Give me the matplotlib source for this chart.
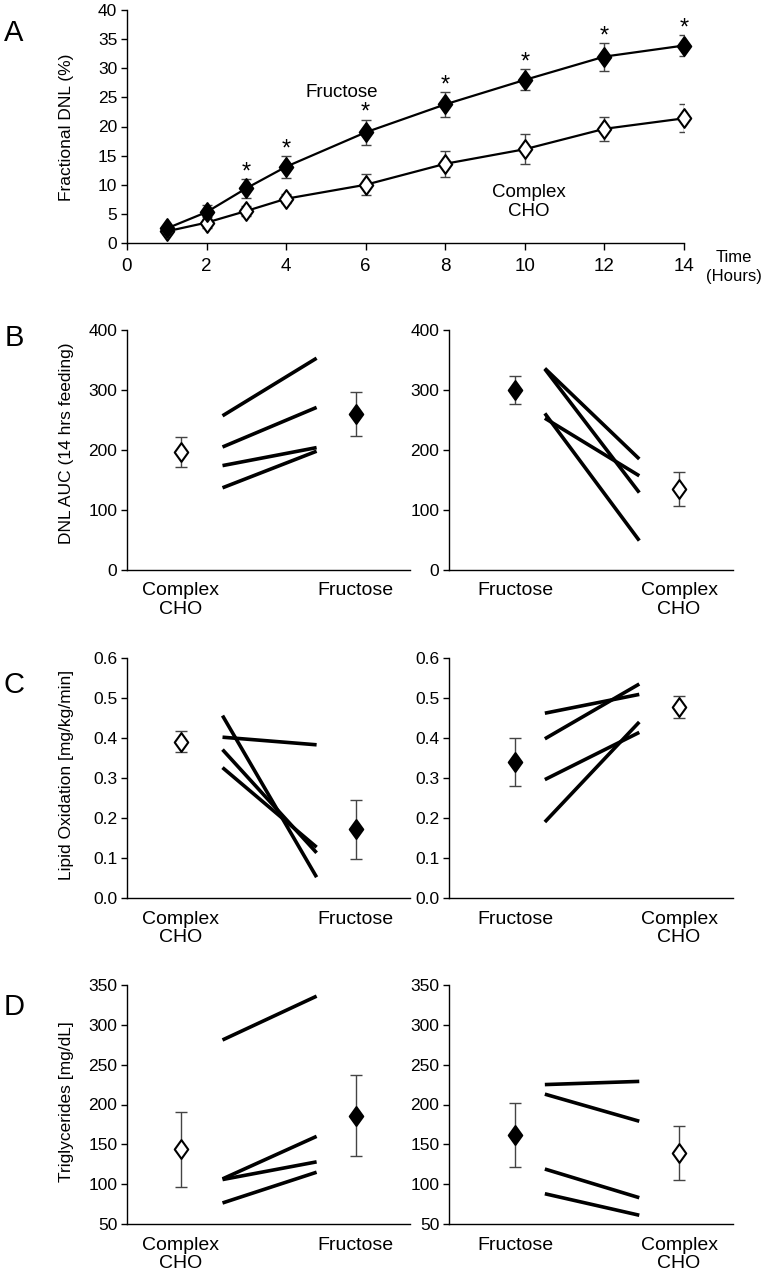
import matplotlib
matplotlib.use('Agg')
import matplotlib.pyplot as plt
from matplotlib.path import Path

plt.rcParams['font.family'] = ['Liberation Sans', 'DejaVu Sans']

# ---------------- Data ----------------
# Panel A: fractional DNL over time
time_h = [1, 2, 3, 4, 6, 8, 10, 12, 14]
dnl_fructose = [2.5, 5.3, 9.4, 13.1, 19.0, 23.8, 28.0, 32.0, 33.9]
dnl_fructose_err = [0.5, 1.2, 1.6, 1.9, 2.2, 2.1, 1.8, 2.4, 1.8]
dnl_complex = [2.0, 3.5, 5.5, 7.6, 10.0, 13.6, 16.1, 19.6, 21.4]
dnl_complex_err = [0.5, 1.0, 0.9, 0.8, 1.8, 2.2, 2.6, 2.1, 2.4]
star_times = [3, 4, 6, 8, 10, 12, 14]

# Panel B: DNL AUC (left: Complex -> Fructose ; right: Fructose -> Complex)
b_left_complex_mean, b_left_complex_err = 196, 25
b_left_fructose_mean, b_left_fructose_err = 260, 36
b_left_start = [257, 205, 174, 137]
b_left_end = [353, 271, 204, 198]
b_right_fructose_mean, b_right_fructose_err = 300, 23
b_right_complex_mean, b_right_complex_err = 135, 29
b_right_start = [336, 335, 261, 253]
b_right_end = [185, 129, 49, 157]

# Panel C: Lipid oxidation
c_left_complex_mean, c_left_complex_err = 0.391, 0.027
c_left_fructose_mean, c_left_fructose_err = 0.172, 0.074
c_left_start = [0.456, 0.402, 0.371, 0.326]
c_left_end = [0.052, 0.383, 0.113, 0.127]
c_right_fructose_mean, c_right_fructose_err = 0.339, 0.060
c_right_complex_mean, c_right_complex_err = 0.477, 0.028
c_right_start = [0.462, 0.398, 0.296, 0.190]
c_right_end = [0.509, 0.535, 0.414, 0.440]

# Panel D: Triglycerides
d_left_complex_mean, d_left_complex_err = 144, 47
d_left_fructose_mean, d_left_fructose_err = 186, 51
d_left_start = [281, 106.6, 105.8, 76.4]
d_left_end = [336, 160, 128, 115]
d_right_fructose_mean, d_right_fructose_err = 162, 40
d_right_complex_mean, d_right_complex_err = 139, 34
d_right_start = [225, 213, 119, 88]
d_right_end = [229, 179, 83, 61]

label_complex = 'Complex\nCHO'
label_fructose = 'Fructose'

# ---------------- Styling helpers ----------------
diamond = Path([(0, 1), (0.72, 0), (0, -1), (-0.72, 0), (0, 1)],
               [Path.MOVETO, Path.LINETO, Path.LINETO, Path.LINETO, Path.CLOSEPOLY])
W, H = 762, 1274
fig = plt.figure(figsize=(W / 100, H / 100), dpi=100)

TICK_FS = 12.5
ERR_COLOR = '#444444'
MS = 13.5


def fig_axes(left_px, right_px, top_px, bottom_px):
    return fig.add_axes([left_px / W, 1 - bottom_px / H,
                         (right_px - left_px) / W, (bottom_px - top_px) / H])


def style_axes(ax):
    for s in ['top', 'right']:
        ax.spines[s].set_visible(False)
    ax.spines['left'].set_linewidth(1.0)
    ax.spines['bottom'].set_linewidth(1.0)
    ax.tick_params(axis='y', direction='out', length=4, width=1, labelsize=TICK_FS, pad=3)


def point(ax, x, mean, err, filled):
    ax.errorbar([x], [mean], yerr=[err], fmt='none', ecolor=ERR_COLOR,
                elinewidth=1.0, capsize=4, capthick=1.0, zorder=3)
    ax.plot([x], [mean], linestyle='none', marker=diamond, markersize=MS,
            markerfacecolor='black' if filled else 'white',
            markeredgecolor='black', markeredgewidth=1.5, zorder=4, clip_on=False)


# ---------------- Panel A ----------------
axA = fig_axes(127, 684, 10, 243)
style_axes(axA)
axA.errorbar(time_h, dnl_complex, yerr=dnl_complex_err, fmt='none', ecolor=ERR_COLOR,
             elinewidth=1.0, capsize=3.5, capthick=1.0, zorder=2)
axA.errorbar(time_h, dnl_fructose, yerr=dnl_fructose_err, fmt='none', ecolor=ERR_COLOR,
             elinewidth=1.0, capsize=3.5, capthick=1.0, zorder=2)
axA.plot(time_h, dnl_complex, color='black', lw=1.6, marker=diamond, markersize=MS,
         markerfacecolor='white', markeredgecolor='black', markeredgewidth=1.5,
         zorder=3, clip_on=False)
axA.plot(time_h, dnl_fructose, color='black', lw=1.6, marker=diamond, markersize=MS,
         markerfacecolor='black', markeredgecolor='black', markeredgewidth=1.5,
         zorder=4, clip_on=False)
for t in star_times:
    i = time_h.index(t)
    axA.text(t, dnl_fructose[i] + dnl_fructose_err[i] + 0.1, '*', ha='center',
             va='baseline', fontsize=17)
axA.set_xlim(0, 14)
axA.set_ylim(0, 40)
axA.set_xticks(range(0, 15, 2))
axA.set_yticks(range(0, 41, 5))
axA.tick_params(axis='x', direction='out', length=5, width=1, labelsize=TICK_FS + 1, pad=6)
axA.text(5.4, 25.9, 'Fructose', ha='center', va='center', fontsize=13.5)
axA.text(10.1, 7.0, 'Complex\nCHO', ha='center', va='center', fontsize=13.5, linespacing=1.15)
axA.text(15.25, -4.1, 'Time\n(Hours)', ha='center', va='center', fontsize=12,
         linespacing=1.3, clip_on=False)

# ---------------- Paired panels ----------------
LEFT_POS = dict(first=0.76, start=1.35, end=2.68, second=3.23)
RIGHT_POS = dict(first=0.93, start=1.35, end=2.68, second=3.24)


def paired(ax, pos, first_label, second_label, first_mean, first_err, first_filled,
           second_mean, second_err, second_filled, starts, ends, ylim, yticks, ytl):
    style_axes(ax)
    for s, e in zip(starts, ends):
        ax.plot([pos['start'], pos['end']], [s, e], color='black', lw=2.6,
                solid_capstyle='butt', zorder=2)
    point(ax, pos['first'], first_mean, first_err, first_filled)
    point(ax, pos['second'], second_mean, second_err, second_filled)
    ax.set_xlim(0, 4)
    ax.set_ylim(*ylim)
    ax.set_yticks(yticks)
    ax.set_yticklabels(ytl)
    ax.set_xticks([pos['first'], pos['second']])
    ax.set_xticklabels([first_label, second_label], fontsize=TICK_FS + 1.5, linespacing=1.1)
    ax.tick_params(axis='x', length=0, pad=9)


B_TOP, B_BOT = 330, 570
C_TOP, C_BOT = 658, 898
D_TOP, D_BOT = 985, 1224
LX0, LX1 = 127, 410
RX0, RX1 = 449, 733

b_ticks = [0, 100, 200, 300, 400]
axB1 = fig_axes(LX0, LX1, B_TOP, B_BOT)
paired(axB1, LEFT_POS, label_complex, label_fructose, b_left_complex_mean, b_left_complex_err, False,
       b_left_fructose_mean, b_left_fructose_err, True, b_left_start, b_left_end,
       (0, 400), b_ticks, [str(v) for v in b_ticks])
axB2 = fig_axes(RX0, RX1, B_TOP, B_BOT)
paired(axB2, RIGHT_POS, label_fructose, label_complex, b_right_fructose_mean, b_right_fructose_err, True,
       b_right_complex_mean, b_right_complex_err, False, b_right_start, b_right_end,
       (0, 400), b_ticks, [str(v) for v in b_ticks])

c_ticks = [0.0, 0.1, 0.2, 0.3, 0.4, 0.5, 0.6]
axC1 = fig_axes(LX0, LX1, C_TOP, C_BOT)
paired(axC1, LEFT_POS, label_complex, label_fructose, c_left_complex_mean, c_left_complex_err, False,
       c_left_fructose_mean, c_left_fructose_err, True, c_left_start, c_left_end,
       (0, 0.6), c_ticks, ['%.1f' % v for v in c_ticks])
axC2 = fig_axes(RX0, RX1, C_TOP, C_BOT)
paired(axC2, RIGHT_POS, label_fructose, label_complex, c_right_fructose_mean, c_right_fructose_err, True,
       c_right_complex_mean, c_right_complex_err, False, c_right_start, c_right_end,
       (0, 0.6), c_ticks, ['%.1f' % v for v in c_ticks])

d_ticks = [50, 100, 150, 200, 250, 300, 350]
axD1 = fig_axes(LX0, LX1, D_TOP, D_BOT)
paired(axD1, LEFT_POS, label_complex, label_fructose, d_left_complex_mean, d_left_complex_err, False,
       d_left_fructose_mean, d_left_fructose_err, True, d_left_start, d_left_end,
       (50, 350), d_ticks, [str(v) for v in d_ticks])
axD2 = fig_axes(RX0, RX1, D_TOP, D_BOT)
paired(axD2, RIGHT_POS, label_fructose, label_complex, d_right_fructose_mean, d_right_fructose_err, True,
       d_right_complex_mean, d_right_complex_err, False, d_right_start, d_right_end,
       (50, 350), d_ticks, [str(v) for v in d_ticks])

# ---------------- Y labels and panel letters ----------------
ylabels = [('Fractional DNL (%)', 127), ('DNL AUC (14 hrs feeding)', 443),
           ('Lipid Oxidation [mg/kg/min]', 775), ('Triglycerides [mg/dL]', 1102)]
for txt, yc in ylabels:
    fig.text(66 / W, 1 - yc / H, txt, rotation=90, ha='center', va='center',
             fontsize=12.5)

letters = [('A', 33), ('B', 338), ('C', 685), ('D', 1007)]
for L, yc in letters:
    fig.text(14 / W, 1 - yc / H, L, ha='center', va='center', fontsize=21)

fig.savefig('out.png', dpi=100)
